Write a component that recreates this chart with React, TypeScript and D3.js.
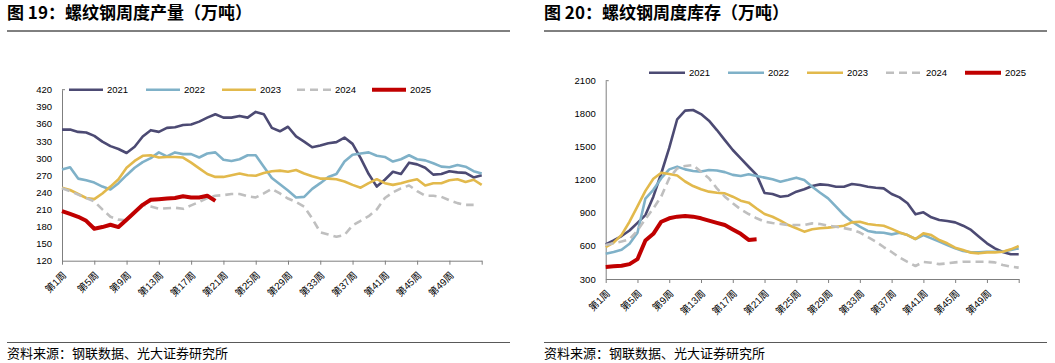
import React, { useEffect, useRef } from "react";
import * as d3 from "d3";

// week categories and labels
const weeks = d3.range(1, 54);
const tickWeeks = [1, 5, 9, 13, 17, 21, 25, 29, 33, 37, 41, 45, 49, 53];
const labelWeeks = [1, 5, 9, 13, 17, 21, 25, 29, 33, 37, 41, 45, 49];
const years = ["2021", "2022", "2023", "2024", "2025"];
const colors = ["#4c4a73", "#7fb1c8", "#e2b94c", "#bfbfbf", "#c00000"];

// 螺纹钢周度产量（万吨）
const prod2021 = [350, 350, 346, 345, 339, 329, 321, 316, 309, 320, 338, 349, 346, 353, 354, 358, 359, 364, 371, 377, 371, 371, 374, 371, 381, 377, 353, 347, 355, 338, 329, 319, 322, 326, 328, 336, 325, 300, 272, 250, 262, 276, 272, 292, 289, 283, 271, 272, 277, 275, 274, 266, 270];
const prod2022 = [280, 284, 264, 261, 257, 250, 245, 256, 270, 283, 293, 300, 310, 303, 310, 307, 307, 301, 308, 310, 297, 295, 298, 305, 305, 285, 265, 254, 243, 231, 232, 246, 256, 267, 272, 294, 306, 308, 310, 304, 302, 294, 298, 305, 298, 296, 291, 285, 284, 288, 285, 277, 273];
const prod2023 = [248, 244, 237, 230, 228, 238, 250, 263, 283, 295, 304, 305, 301, 302, 302, 301, 292, 282, 272, 267, 267, 270, 273, 270, 269, 274, 277, 278, 276, 279, 273, 268, 264, 264, 263, 259, 253, 248, 256, 263, 256, 253, 256, 260, 263, 252, 256, 256, 261, 263, 258, 262, 253];
const prod2024 = [247, 242, 236, 230, 224, 210, 197, 192, 191, 205, 218, 215, 211, 212, 213, 211, 217, 223, 230, 234, 235, 237, 237, 233, 231, 238, 246, 238, 229, 223, 215, 194, 170, 166, 162, 165, 182, 190, 198, 210, 230, 240, 247, 252, 242, 234, 234, 232, 226, 221, 218, 218];
const prod2025 = [207, 202, 197, 190, 176, 179, 183, 179, 192, 205, 218, 227, 228, 229, 230, 233, 231, 231, 234, 225];

// 螺纹钢周度库存（万吨）
const stock2021 = [615, 650, 690, 740, 810, 880, 1047, 1260, 1490, 1750, 1828, 1834, 1797, 1737, 1652, 1561, 1471, 1395, 1319, 1245, 1080, 1071, 1047, 1056, 1093, 1114, 1144, 1159, 1153, 1138, 1138, 1162, 1153, 1138, 1129, 1123, 1071, 1041, 987, 887, 905, 860, 835, 826, 814, 784, 745, 684, 624, 578, 545, 524, 524];
const stock2022 = [530, 545, 565, 620, 720, 1030, 1110, 1215, 1295, 1320, 1295, 1280, 1275, 1290, 1285, 1270, 1245, 1235, 1250, 1235, 1220, 1205, 1183, 1200, 1220, 1198, 1138, 1083, 1032, 957, 881, 820, 775, 736, 723, 720, 705, 720, 699, 663, 699, 669, 639, 609, 578, 554, 542, 542, 548, 548, 548, 563, 578];
const stock2023 = [590, 630, 700, 820, 960, 1100, 1210, 1265, 1253, 1240, 1185, 1144, 1114, 1093, 1083, 1077, 1047, 1011, 993, 940, 890, 865, 830, 790, 760, 730, 751, 760, 766, 775, 784, 814, 820, 799, 790, 784, 755, 723, 699, 663, 714, 699, 654, 624, 584, 563, 539, 533, 542, 542, 548, 569, 599];
const stock2024 = [609, 625, 640, 660, 740, 845, 940, 1050, 1214, 1304, 1325, 1334, 1274, 1214, 1123, 1047, 987, 932, 890, 851, 820, 808, 800, 790, 790, 790, 805, 799, 784, 775, 762, 748, 722, 680, 640, 590, 545, 495, 455, 418, 455, 448, 435, 442, 451, 457, 457, 457, 457, 451, 427, 412, 403];
const stock2025 = [410, 415, 420, 435, 480, 650, 710, 820, 851, 866, 872, 866, 851, 830, 810, 790, 750, 710, 655, 660];

const prodTicks = [120, 150, 180, 210, 240, 270, 300, 330, 360, 390, 420];
const stockTicks = [300, 600, 900, 1200, 1500, 1800, 2100];

const FONT = "'Liberation Sans', Arial, 'Noto Sans CJK SC', sans-serif";
const CJK = "'Noto Sans CJK SC', sans-serif";

function drawPanel(svg, p) {
  const g = svg.append("g");

  // title + rules
  g.append("text")
    .attr("x", p.x0)
    .attr("y", 19)
    .style("font-family", CJK)
    .style("font-size", "17px")
    .style("font-weight", "bold")
    .attr("fill", "#000")
    .text(p.title);
  g.append("line")
    .attr("x1", p.x0).attr("x2", p.x0 + 503)
    .attr("y1", 31).attr("y2", 31)
    .attr("stroke", "#000").attr("stroke-width", 1);
  g.append("line")
    .attr("x1", p.x0).attr("x2", p.x0 + 503)
    .attr("y1", 342.5).attr("y2", 342.5)
    .attr("stroke", "#595959").attr("stroke-width", 1.2);
  g.append("text")
    .attr("x", p.x0)
    .attr("y", 358)
    .style("font-family", CJK)
    .style("font-size", "13px")
    .attr("fill", "#000")
    .text("资料来源：钢联数据、光大证券研究所");

  const x = d3.scalePoint().domain(weeks).range([p.left, p.right]);
  const y = d3.scaleLinear().domain([p.ticks[0], p.ticks[p.ticks.length - 1]]).range([p.bottom, p.top]);

  // y axis
  const ya = g.append("g")
    .attr("transform", `translate(${p.left},0)`)
    .call(d3.axisLeft(y).tickValues(p.ticks).tickFormat(d3.format("d")).tickSize(0).tickPadding(10));
  ya.select(".domain").attr("stroke", "#7f7f7f");
  ya.selectAll("text").style("font-family", FONT).style("font-size", "9.5px").attr("fill", "#000");
  g.append("line")
    .attr("x1", p.left).attr("x2", p.left + 3)
    .attr("y1", p.top).attr("y2", p.top)
    .attr("stroke", "#7f7f7f");

  // x axis
  const xa = g.append("g")
    .attr("transform", `translate(0,${p.bottom})`)
    .call(d3.axisBottom(x).tickValues(tickWeeks).tickSize(4).tickSizeOuter(0).tickFormat(() => ""));
  xa.selectAll("line").attr("stroke", "#7f7f7f");
  xa.select(".domain").attr("stroke", "#7f7f7f");

  g.selectAll(".xlab")
    .data(labelWeeks)
    .enter().append("text")
    .attr("class", "xlab")
    .attr("transform", d => `translate(${x(d) + 5},${p.bottom + 15})rotate(-45)`)
    .attr("text-anchor", "end")
    .style("font-family", FONT)
    .style("font-size", "9.8px")
    .attr("fill", "#000")
    .text(d => `第${d}周`);

  // series lines
  const line = d3.line()
    .x((d, i) => x(weeks[i]))
    .y(d => y(d))
    .curve(d3.curveLinear);

  p.series.forEach((s, i) => {
    g.append("path")
      .datum(s)
      .attr("d", line)
      .attr("fill", "none")
      .attr("stroke", colors[i])
      .attr("stroke-width", i === 4 ? 4 : 2.6)
      .attr("stroke-dasharray", i === 3 ? "8,5" : null)
      .attr("stroke-linejoin", "round");
  });

  // legend
  years.forEach((yr, i) => {
    const lx = p.legendX[i];
    g.append("line")
      .attr("x1", lx).attr("x2", lx + p.legendLen)
      .attr("y1", p.legendY).attr("y2", p.legendY)
      .attr("stroke", colors[i])
      .attr("stroke-width", i === 4 ? 4 : 2.6)
      .attr("stroke-dasharray", i === 3 ? "8,5" : null);
    g.append("text")
      .attr("x", lx + p.legendLen + 4)
      .attr("y", p.legendY)
      .attr("dy", "0.35em")
      .style("font-family", FONT)
      .style("font-size", "9.5px")
      .attr("fill", "#000")
      .text(yr);
  });
}

export default function App() {
  const ref = useRef(null);

  useEffect(() => {
    const svg = d3.select(ref.current);
    svg.selectAll("*").remove();

    drawPanel(svg, {
      x0: 7,
      title: "图 19：螺纹钢周度产量（万吨）",
      left: 62, right: 481.7, top: 89.7, bottom: 260.7,
      ticks: prodTicks,
      series: [prod2021, prod2022, prod2023, prod2024, prod2025],
      legendX: [69, 146, 222, 297, 372],
      legendLen: 34,
      legendY: 89.7,
    });

    drawPanel(svg, {
      x0: 544,
      title: "图 20：螺纹钢周度库存（万吨）",
      left: 605.7, right: 1018.7, top: 80.7, bottom: 279,
      ticks: stockTicks,
      series: [stock2021, stock2022, stock2023, stock2024, stock2025],
      legendX: [649, 728, 807, 886, 965],
      legendLen: 36,
      legendY: 72.7,
    });
  }, []);

  return (
    <svg
      ref={ref}
      width={1055}
      height={363}
      style={{ position: "absolute", left: 0, top: 0, background: "#fff" }}
    />
  );
}
